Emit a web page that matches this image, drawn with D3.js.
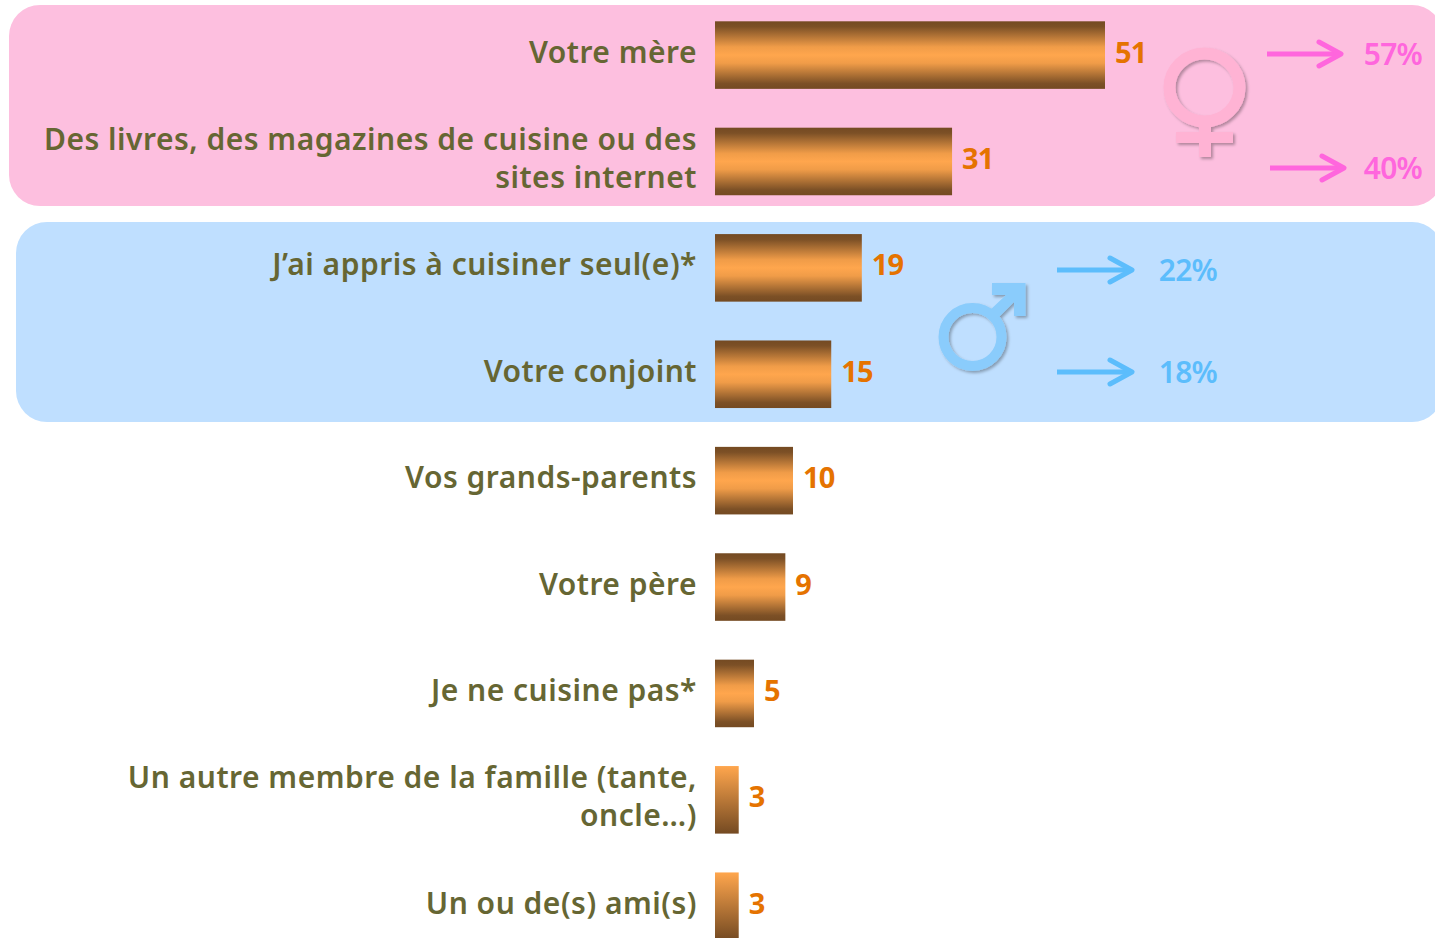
<!DOCTYPE html>
<html><head><meta charset="utf-8">
<script src="https://cdn.jsdelivr.net/npm/d3@7"></script>
<style>html,body{margin:0;padding:0;background:#fff;overflow:hidden}svg{display:block}
text{font-family:"Noto Sans","Open Sans",sans-serif}</style></head><body>
<script>
const categories=["Votre mère","Des livres, des magazines de cuisine ou des|sites internet","J’ai appris à cuisiner seul(e)*","Votre conjoint","Vos grands-parents","Votre père","Je ne cuisine pas*","Un autre membre de la famille (tante,|oncle…)","Un ou de(s) ami(s)"];
const values=[51,31,19.2,15.2,10.2,9.2,5.1,3.1,3.1];
const valueLabels=["51","31","19","15","10","9","5","3","3"];
const femaleLabels=["57%","40%"];
const maleLabels=["22%","18%"];
const W=1435,H=938;
const svg=d3.select("body").append("svg").attr("width",W).attr("height",H);
const defs=svg.append("defs");
const g1=defs.append("linearGradient").attr("id","full").attr("x1",0).attr("x2",0).attr("y1",0).attr("y2",1);
[[0,"#744a22"],[.08,"#7c5026"],[.38,"#f09c48"],[.5,"#ffa64d"],[.62,"#f09c48"],[.92,"#7c5026"],[1,"#744a22"]].forEach(s=>g1.append("stop").attr("offset",s[0]).attr("stop-color",s[1]));
const g2=defs.append("linearGradient").attr("id","half").attr("x1",0).attr("x2",0).attr("y1",0).attr("y2",1);
[[0,"#ffa64d"],[1,"#744a22"]].forEach(s=>g2.append("stop").attr("offset",s[0]).attr("stop-color",s[1]));
const f=defs.append("filter").attr("id","sh").attr("x","-20%").attr("y","-20%").attr("width","150%").attr("height","150%");
f.append("feDropShadow").attr("dx",2).attr("dy",2).attr("stdDeviation",1.6).attr("flood-color","#000").attr("flood-opacity",.3);

svg.append("rect").attr("x",9).attr("y",5).attr("width",1434).attr("height",201).attr("rx",31).attr("fill","#fdbfdf");
svg.append("rect").attr("x",16).attr("y",222).attr("width",1427).attr("height",200).attr("rx",31).attr("fill","#bfdfff");

const x=d3.scaleLinear().domain([0,51]).range([715,1105]);
const y=d3.scaleBand().domain(categories).range([21.3,940]).paddingInner(.365).paddingOuter(0);

svg.selectAll("rect.bar").data(categories).join("rect").attr("class","bar")
 .attr("x",x(0)).attr("y",d=>y(d)).attr("height",y.bandwidth())
 .attr("width",(d,i)=>x(values[i])-x(0))
 .attr("fill",(d,i)=>i>=7?"url(#half)":"url(#full)");

svg.selectAll("text.val").data(categories).join("text").attr("class","val")
 .attr("x",(d,i)=>x(values[i])+10).attr("y",d=>y(d)+y.bandwidth()/2+7.5)
 .attr("font-size",29).attr("font-weight",700).attr("fill","#e57300").attr("letter-spacing",-.8)
 .text((d,i)=>valueLabels[i]);

const lab=svg.selectAll("text.cat").data(categories).join("text").attr("class","cat")
 .attr("text-anchor","end").attr("font-size",30).attr("font-weight",600).attr("letter-spacing",.5).attr("fill","#666633");
lab.each(function(d){
  const lines=d.split("|"),cy=y(d)+y.bandwidth()/2;
  d3.select(this).selectAll("tspan").data(lines).join("tspan").attr("x",697)
   .attr("y",(l,i)=>cy+7.6+(i-(lines.length-1)/2)*38).text(l=>l);
});

function arrow(col,x0,x1,yy){
  svg.append("path").attr("d",d3.line()([[x0,yy],[x1-3,yy]])).attr("stroke",col).attr("stroke-width",5).attr("fill","none");
  svg.append("path").attr("d",d3.line()([[x1-25,yy-12],[x1-3,yy],[x1-25,yy+12]])).attr("stroke",col).attr("stroke-width",5).attr("fill","none").attr("stroke-linecap","round").attr("stroke-linejoin","round");
}
const pk="#ff66dd",bl="#5cbdfc";
arrow(pk,1267,1344,54);arrow(pk,1270,1347,168);
arrow(bl,1057,1135,270);arrow(bl,1057,1135,372);
function pct(t,col,xr,yy){svg.append("text").attr("x",xr).attr("y",yy).attr("text-anchor","end").attr("font-size",30).attr("font-weight",600).attr("letter-spacing",-.8).attr("fill",col).text(t);}
pct(femaleLabels[0],pk,1422,65);pct(femaleLabels[1],pk,1422,179);
pct(maleLabels[0],bl,1217,281);pct(maleLabels[1],bl,1217,383);

const fem=svg.append("g").attr("filter","url(#sh)");
fem.append("ellipse").attr("cx",1204.5).attr("cy",87.5).attr("rx",35).attr("ry",34).attr("fill","none").attr("stroke","#ffb3d4").attr("stroke-width",12);
fem.append("path").attr("fill","#ffb3d4").attr("d","M1199 120H1211V132H1233V143H1211V157H1199V143H1176V132H1199Z");
const mal=svg.append("g").attr("filter","url(#sh)");
mal.append("circle").attr("cx",972.5).attr("cy",337).attr("r",29).attr("fill","none").attr("stroke","#8accfc").attr("stroke-width",10);
mal.append("path").attr("fill","#8accfc").attr("d","M992 283H1025.5V316H1014V302L996 320L988 312L1006 295H992Z");
</script></body></html>
